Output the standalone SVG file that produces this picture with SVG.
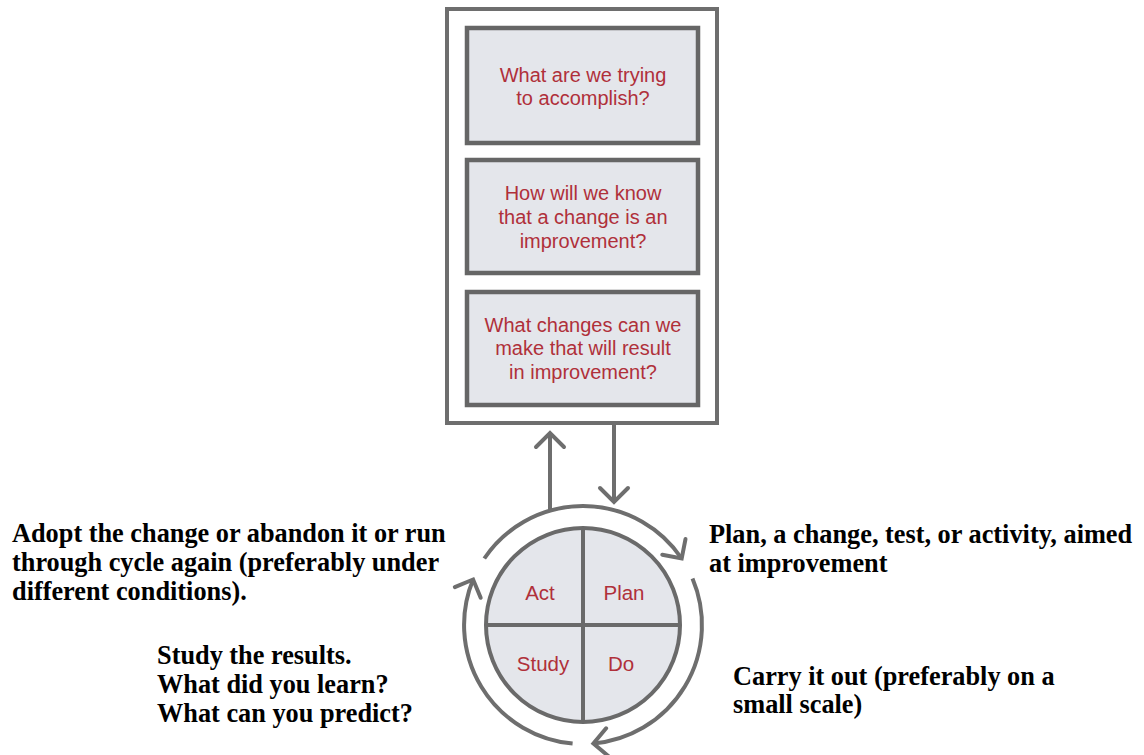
<svg xmlns="http://www.w3.org/2000/svg" width="1144" height="755" viewBox="0 0 1144 755">
  <style>
    .frame { fill: #ffffff; stroke: #6e6e6e; stroke-width: 4; }
    .box { fill: #e4e6eb; stroke: #666666; stroke-width: 4.5; }
    .q { font-family: "Liberation Sans", Arial, sans-serif; font-size: 20px; fill: #b0303a; text-anchor: middle; }
    .lbl { font-family: "Liberation Sans", Arial, sans-serif; font-size: 20.5px; fill: #b0303a; text-anchor: middle; }
    .note { font-family: "Liberation Serif", "Times New Roman", serif; font-size: 26.3px; font-weight: bold; fill: #000000; }
    .conn { fill: none; stroke: #6e6e6e; stroke-width: 4; }
    .div { fill: none; stroke: #6a6a6a; stroke-width: 4; }
  </style>
  <defs>
    <marker id="chev" markerUnits="userSpaceOnUse" markerWidth="40" markerHeight="40" refX="0" refY="0" orient="auto" style="overflow:visible">
      <path d="M -14 -14 L 0 0 L -14 14" fill="none" stroke="#6e6e6e" stroke-width="4" stroke-linecap="round" stroke-linejoin="miter"/>
    </marker>
  </defs>
  <rect width="1144" height="755" fill="#ffffff"/>

  <g id="questions-frame">
    <rect class="frame" x="447" y="9" width="270" height="414"/>
  </g>

  <g id="q1">
    <rect class="box" x="467" y="28" width="231" height="115"/>
    <text class="q" x="583" y="82">What are we trying</text>
    <text class="q" x="583" y="105">to accomplish?</text>
  </g>

  <g id="q2">
    <rect class="box" x="467" y="160" width="231" height="113"/>
    <text class="q" x="583" y="200">How will we know</text>
    <text class="q" x="583" y="224">that a change is an</text>
    <text class="q" x="583" y="248">improvement?</text>
  </g>

  <g id="q3">
    <rect class="box" x="467" y="292" width="231" height="113"/>
    <text class="q" x="583" y="332">What changes can we</text>
    <text class="q" x="583" y="355">make that will result</text>
    <text class="q" x="583" y="379">in improvement?</text>
  </g>

  <g id="pdsa-wheel">
    <circle cx="583" cy="625" r="97" fill="#e4e6eb" stroke="#6a6a6a" stroke-width="4"/>
    <line class="div" x1="583" y1="528" x2="583" y2="722"/>
    <line class="div" x1="486" y1="625" x2="680" y2="625"/>
    <text class="lbl" x="540" y="600">Act</text>
    <text class="lbl" x="624" y="600">Plan</text>
    <text class="lbl" x="543" y="671">Study</text>
    <text class="lbl" x="621" y="671">Do</text>
  </g>

  <g id="connectors">
    <line class="conn" x1="550" y1="511" x2="550" y2="433" marker-end="url(#chev)"/>
    <line class="conn" x1="614" y1="423" x2="614" y2="502" marker-end="url(#chev)"/>
    <path class="conn" d="M 484.3 558.5 A 119 119 0 0 1 681.7 558.5" marker-end="url(#chev)"/>
    <path class="conn" d="M 692.5 578.5 A 119 119 0 0 1 593.4 743.5" marker-end="url(#chev)"/>
    <path class="conn" d="M 572.6 743.5 A 119 119 0 0 1 473.1 579.5" marker-end="url(#chev)"/>
  </g>

  <g id="note-act">
    <text class="note" x="12" y="542">Adopt the change or abandon it or run</text>
    <text class="note" x="12" y="571">through cycle again (preferably under</text>
    <text class="note" x="12" y="600">different conditions).</text>
  </g>

  <g id="note-plan">
    <text class="note" x="709" y="543">Plan, a change, test, or activity, aimed</text>
    <text class="note" x="709" y="572">at improvement</text>
  </g>

  <g id="note-study">
    <text class="note" x="157" y="664">Study the results.</text>
    <text class="note" x="157" y="693">What did you learn?</text>
    <text class="note" x="157" y="722">What can you predict?</text>
  </g>

  <g id="note-do">
    <text class="note" x="733" y="685">Carry it out (preferably on a</text>
    <text class="note" x="733" y="713">small scale)</text>
  </g>
</svg>
